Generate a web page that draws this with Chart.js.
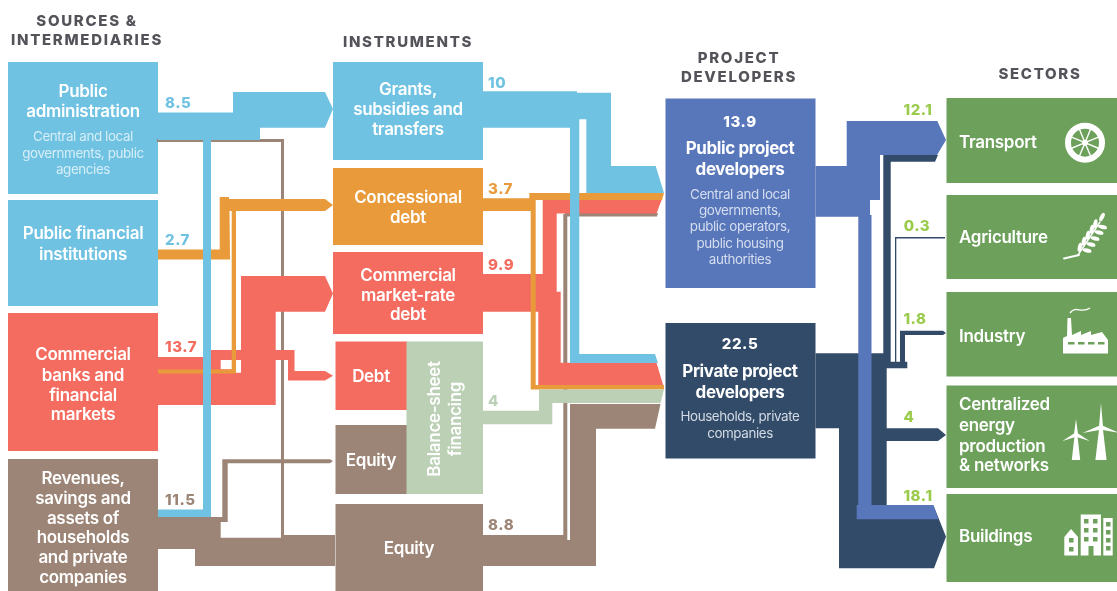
<!DOCTYPE html>
<html><head><meta charset="utf-8">
<style>html,body{margin:0;padding:0;background:#fff}canvas{display:block;filter:blur(.45px)}</style>
<script src="https://cdn.jsdelivr.net/npm/chart.js@4/dist/chart.umd.min.js"></script>
</head><body><canvas id="c" width="1117" height="591"></canvas>
<script>
// ---------- chart values (flow figures)
const sourceFlows = [8.5, 2.7, 13.7, 11.5];
const instrumentFlows = [10, 3.7, 9.9, 4, 8.8];
const developerTotals = [13.9, 22.5];
const sectorFlows = [12.1, 0.3, 1.8, 4, 18.1];
// ---------- categories
const columnTitles = [["SOURCES &","INTERMEDIARIES"],["INSTRUMENTS"],["PROJECT","DEVELOPERS"],["SECTORS"]];
const sourceNames = [["Public","administration"],["Public financial","institutions"],["Commercial","banks and","financial","markets"],["Revenues,","savings and","assets of","households","and private","companies"]];
const sourceNotes = ["Central and local","governments, public","agencies"];
const instrumentNames = [["Grants,","subsidies and","transfers"],["Concessional","debt"],["Commercial","market-rate","debt"],["Debt"],["Equity"],["Balance-sheet","financing"],["Equity"]];
const developerNames = [["Public project","developers"],["Private project","developers"]];
const developerNotes = [["Central and local","governments,","public operators,","public housing","authorities"],["Households, private","companies"]];
const sectorNames = [["Transport"],["Agriculture"],["Industry"],["Centralized","energy","production","& networks"],["Buildings"]];

// ---------- palette
const C = {blue:'#70C2E2',orange:'#E99A3A',red:'#F46C60',brown:'#9C8576',sage:'#BBD0B4',dev:'#5876BA',navy:'#324B69',green:'#6DA15B',lime:'#9ACB4C',head:'#55535A'};

// ---------- diagram geometry, in axis units
const R = (a,b,c,d)=>[[a,b],[c,b],[c,d],[a,d]];
const shapes = [
 // nodes
 [C.blue,R(8,62,158,194)],[C.blue,R(8,200,158,306)],[C.red,R(8,313,158,451)],[C.brown,R(8,459,158,591)],
 [C.blue,R(333,62,483,160)],[C.orange,R(333,168,483,245)],[C.red,R(333,252,483,334)],
 [C.red,R(335.5,341.5,407,410)],[C.brown,R(335.5,425,407,494)],[C.sage,R(406.5,341.5,483,494)],[C.brown,R(335.5,504,483,591)],
 [C.dev,R(665.5,98.5,815.5,288)],[C.navy,R(665.5,323,815.5,458.5)],
 [C.green,R(946.5,98,1117,183)],[C.green,R(946.5,195,1117,279)],[C.green,R(946.5,292,1117,376.5)],[C.green,R(946.5,385.5,1117,488)],[C.green,R(946.5,494,1117,582)],
 // sources -> instruments
 [C.brown,[[157,139],[284,139],[284,536],[281,536],[281,142],[157,142]]],
 [C.brown,[[158,517],[220.7,517],[220.7,537.7],[281,537.7],[281,535],[335,535],[335,566],[195,566],[195,549],[158,549]]],
 [C.brown,[[222.3,459.3],[330,459.3],[333,461],[330,463.3],[227.7,463.3],[227.7,522],[220,522],[220,517],[222.3,517]]],
 [C.red,[[158,357],[211,357],[211,350],[241,350],[241,276],[325,276],[333,293.5],[325,311.7],[275.7,311.7],[275.7,350],[294.5,350],[294.5,371],[325,371],[333,375.7],[325,380.5],[288,380.5],[288,360],[275.7,360],[275.7,405],[158,405]]],
 ['#fff',R(220.7,360,232,369.3)],['#fff',R(236,360,241,372.7)],
 [C.orange,[[158,249.5],[219.7,249.5],[219.7,197],[229,197],[229,199],[325,199],[333,205],[325,211],[229.5,211],[230,259.5],[158,259.5]]],
 [C.orange,[[231.7,211],[236,211],[236,373.5],[158,373.5],[158,369.5],[231.7,369.5]]],
 [C.blue,[[158,112.5],[233,112.5],[233,92],[325,92],[333,109],[325,127.7],[260,127.7],[260,140],[211,140],[211,517],[158,517],[158,509.5],[203,509.5],[203,140],[158,140]]],
 // instruments -> developers
 [C.brown,[[563.3,214],[567.3,214],[567.3,540],[563.3,540]]],
 [C.brown,[[565,213],[658,213],[657,216.5],[565,216.5]]],
 [C.red,[[483,274],[542.7,274],[542.7,199],[662,199],[656.5,213.5],[556.7,213.5],[556.7,291.7],[560.7,291.7],[560.7,362.7],[656.5,362.7],[664,388],[538.3,388],[538.3,311.7],[483,311.7]]],
 [C.orange,[[483,198.3],[529.3,198.3],[529.3,193],[664,193],[662,200],[535.7,200],[535.7,385],[664,385],[664,389.5],[530.7,389.5],[530.7,211],[483,211]]],
 [C.sage,[[483,410.7],[539,410.7],[539,389.5],[664,389.5],[660.5,403],[552.3,403],[552.3,424.3],[483,424.3]]],
 [C.brown,[[483,535],[567,535],[567,540],[570,540],[570,404],[660.5,404],[655,428.7],[596,428.7],[596,566],[483,566]]],
 [C.blue,[[483,91.3],[577,91.3],[577,92.7],[611,92.7],[611,166],[655.7,166],[664,193],[586.3,193],[586.3,119.3],[579.3,119.3],[579.3,354],[655,354],[658,363],[570,363],[570,127.7],[483,127.7]]],
 // developers -> sectors
 [C.navy,[[815.5,353.3],[883.3,353.3],[883.3,155],[938,155],[935,161.7],[890.7,161.7],[890.7,361.7],[895,361.7],[895,237],[945,237],[945,238.4],[896.3,238.4],[896.3,361.7],[900,361.7],[900,330.7],[943,330.7],[946,333],[943,335],[905,335],[905,361.7],[907.3,361.7],[907.3,368.3],[886.7,368.3],[886.7,428.3],[938,428.3],[946,435],[938,441],[886.7,441],[886.7,505],[933.3,505],[946,536.7],[934,568.3],[839,568.3],[839,428.3],[815.5,428.3]]],
 [C.dev,[[815.5,166],[846.7,166],[846.7,121],[937.3,121],[946,140],[937,155],[880,155],[880,200],[870,200],[870,215],[871.5,215],[871.5,505],[933.3,505],[938.5,519.3],[856.7,519.3],[856.7,505],[858.3,505],[858.3,216.7],[815.5,216.7]]],
];

// ---------- text placement, in axis units
const txt=[];
const F='Inter';
const put=(lines,x,ys,font,color,extra={})=>lines.forEach((s,i)=>txt.push({s,x,y:ys[i]+0.7,font,color,...extra}));
const H=`800 15px ${F}`, N=`600 17px ${F}`, S=`400 13.4px ${F}`, V=`800 15px ${F}`;
const headX=[87,408,739,1040], headY=[[21,40],[42],[58,77],[74]];
columnTitles.forEach((t,i)=>put(t,headX[i],headY[i],H,C.head,{ls:'1.7px'}));
const srcY=[[91,111],[233,254],[354,375,395,414],[478,498,518,537,557,577]];
sourceNames.forEach((t,i)=>put(t,83,srcY[i],N,'#fff',{ls:'-0.3px'}));
put(sourceNotes,83,[136,153,169],S,'#D6EEF7',{ls:'-0.4px'});
const insX=[408,408,408,371,371,0,409], insY=[[89,109,129],[197,217],[275,295,314],[376],[460],[],[548]];
instrumentNames.forEach((t,i)=>{if(i!==5)put(t,insX[i],insY[i],N,'#fff',{ls:'-0.3px'})});
txt.push({s:instrumentNames[5][0],x:435,y:419,font:N,color:'#fff',rot:-Math.PI/2,ls:'-0.3px'});
txt.push({s:instrumentNames[5][1],x:456,y:419,font:N,color:'#fff',rot:-Math.PI/2,ls:'-0.3px'});
const valLabel=(v,x,y,c,a='left')=>txt.push({s:String(v),x,y:y+0.7,font:V,color:c,align:a,ls:'0.6px'});
const srcColors=[C.blue,C.blue,C.red,C.brown], srcVY=[103,240,347,500];
sourceFlows.forEach((v,i)=>valLabel(v,165,srcVY[i],srcColors[i]));
const insColors=[C.blue,C.orange,C.red,C.sage,C.brown], insVY=[83,189,265,401,525];
instrumentFlows.forEach((v,i)=>valLabel(v,488,insVY[i],insColors[i]));
const devTotY=[122,344], devNameY=[[148,169],[371,392]], devNoteY=[[194,210,226,243,259],[416,433]], noteC=['#D5DEF0','#D3DBE4'];
developerTotals.forEach((v,i)=>{valLabel(v,740,devTotY[i],'#fff','center');put(developerNames[i],740,devNameY[i],`700 17px ${F}`,'#fff',{ls:'-0.4px'});put(developerNotes[i],740,devNoteY[i],S,noteC[i],{ls:'-0.4px'})});
const secVX=[918,917,915,909,918], secVY=[110,226,319,417,496];
sectorFlows.forEach((v,i)=>valLabel(v,secVX[i],secVY[i],C.lime,'center'));
const secY=[[142],[237],[336],[404,425,446,465],[536]];
sectorNames.forEach((t,i)=>put(t,959,secY[i],N,'#fff',{align:'left',ls:'-0.3px'}));

// ---------- plugin: text and white pictograms, all located through the scales
const overlay={id:'overlay',afterDatasetsDraw(chart){
 const {ctx,scales:{x:sx,y:sy}}=chart; const X=v=>sx.getPixelForValue(v),Y=v=>sy.getPixelForValue(v);
 ctx.save();
 ctx.fillStyle='#fff';ctx.strokeStyle='#fff';
 const poly=(pts)=>{ctx.beginPath();pts.forEach((p,i)=>i?ctx.lineTo(X(p[0]),Y(p[1])):ctx.moveTo(X(p[0]),Y(p[1])));ctx.closePath();ctx.fill()};
 const circ=(x,y,r)=>{ctx.beginPath();ctx.arc(X(x),Y(y),r,0,7)};
 const seg=(a,b,c,d,w)=>{ctx.lineWidth=w;ctx.beginPath();ctx.moveTo(X(a),Y(b));ctx.lineTo(X(c),Y(d));ctx.stroke()};
 const grain=(x,y,rot)=>{ctx.beginPath();ctx.ellipse(X(x),Y(y),4.6,2,rot,0,7);ctx.fill()};
 const gf=C.green;
 // wheel
 ctx.lineWidth=6;circ(1085,142.7,17);ctx.stroke();
 for(let a=0;a<8;a++){const t=a*Math.PI/4+Math.PI/8;seg(1085,142.7,1085+14.5*Math.cos(t),142.7+14.5*Math.sin(t),1.4)}
 circ(1085,142.7,3);ctx.fill();
 // wheat
 ctx.lineCap='round';seg(1064,258.5,1079,255,1.8);seg(1078,255,1100,222,1.4);ctx.lineCap='butt';
 const ax=[[1083,249],[1087,243],[1091,237],[1095,231],[1098.5,225.5]];
 ax.forEach(p=>{grain(p[0]-3.2,p[1]-1.8,-1.35);grain(p[0]+4,p[1]+1.5,-0.1+0.35)});
 grain(1102,217,-1.1);
 // factory
 poly([[1063,353.5],[1063,338],[1067,336],[1067.5,318],[1071,318],[1072,335],[1081,331],[1081,335],[1091,331],[1091,335],[1102,332],[1108,340],[1108,353.5]]);
 ctx.fillStyle=gf;[1068,1078,1088,1098].forEach(x=>ctx.fillRect(X(x),Y(342),6.5,2.5));ctx.fillStyle='#fff';
 ctx.lineWidth=1.4;ctx.beginPath();ctx.moveTo(X(1070),Y(313));ctx.bezierCurveTo(X(1076),Y(305),X(1081),Y(314),X(1090),Y(308));ctx.stroke();
 // turbines
 const turbine=(x,top,hub,base,w,dx,dy)=>{poly([[x-w,base],[x-w*.3,hub],[x+w*.3,hub],[x+w,base]]);
  poly([[x-2,hub],[x,top],[x+2,hub]]);poly([[x+1,hub-2.5],[x-dx,hub+dy],[x+1,hub+2.5]]);poly([[x-1,hub-2.5],[x+dx,hub+dy],[x-1,hub+2.5]])};
 turbine(1076,419,434,460,4.2,13.5,7);turbine(1101,403,427,460,5.6,18.5,6);
 // buildings
 poly([[1064.3,555.5],[1064.3,537],[1071,529],[1078,537],[1078,555.5]]);
 poly([[1080.7,555.5],[1080.7,514.5],[1101,514.5],[1101,555.5]]);
 poly([[1103.3,518],[1112.7,518],[1112.7,555.5],[1103.3,555.5]]);
 ctx.fillStyle=gf;
 [[1084,519],[1093,519],[1084,528],[1093,528],[1084,537],[1093,537],[1106,522],[1106,530],[1106,538],[1106,546],[1069,538],[1069,547]].forEach(p=>ctx.fillRect(X(p[0]),Y(p[1]),4.5,4.5));
 ctx.fillRect(X(1088.5),Y(546),5,10);
 ctx.restore();
 // texts
 ctx.save();ctx.textBaseline='middle';
 for(const t of txt){ctx.save();ctx.font=t.font;ctx.fillStyle=t.color;ctx.textAlign=t.align||'center';ctx.letterSpacing=t.ls||'0px';
  ctx.translate(X(t.x),Y(t.y));if(t.rot)ctx.rotate(t.rot);ctx.fillText(t.s,0,0);ctx.restore();}
 ctx.restore();
}};

new Chart(document.getElementById('c'),{
 type:'line',
 plugins:[overlay],
 data:{datasets:shapes.map(([color,pts],i)=>({
  data:pts.map(p=>({x:p[0],y:p[1]})),
  order:shapes.length-i,fill:'shape',backgroundColor:color,borderWidth:0,pointRadius:0,pointHoverRadius:0,tension:0,spanGaps:true,clip:false
 }))},
 options:{responsive:false,animation:false,events:[],
  layout:{padding:0},
  plugins:{legend:{display:false},tooltip:{enabled:false},title:{display:false},filler:{propagate:false}},
  scales:{x:{type:'linear',min:0,max:1117,display:false},y:{type:'linear',min:0,max:591,reverse:true,display:false}}
 }
});
</script></body></html>
